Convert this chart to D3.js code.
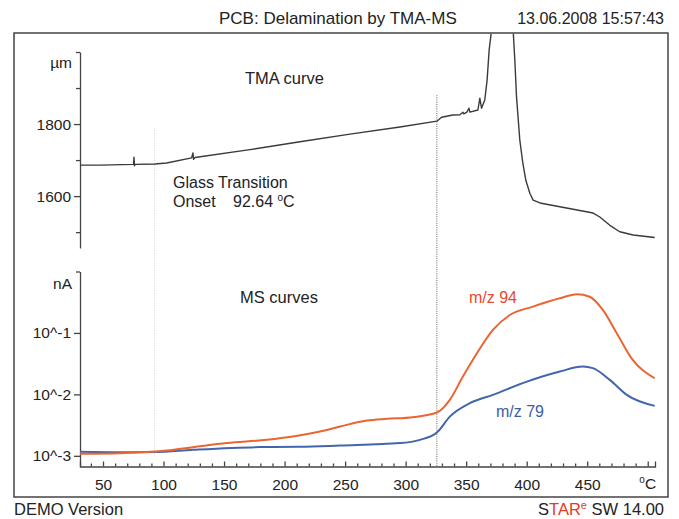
<!DOCTYPE html>
<html>
<head>
<meta charset="utf-8">
<script src="https://cdn.jsdelivr.net/npm/d3@7"></script>
<style>
  body { margin: 0; background: #fff; }
  svg { display: block; }
  text { font-family: "Liberation Sans", Arial, sans-serif; fill: #222; }
</style>
</head>
<body>
<svg id="chart" width="679" height="519"></svg>
<script>
// TMA curve: sample temperature (°C) and sample length (µm)
const tmaTemp = [31.0, 47.5, 75.2, 75.6, 76.0, 76.4, 92.9, 102.6, 123.2, 124.3, 124.8, 126.0,
  171.4, 212.7, 254.0, 295.3, 325.8, 329.7, 339.0, 344.8, 347.3, 348.1, 350.6, 352.3, 353.1,
  359.7, 361.3, 362.7, 365.4, 367.3, 369.0, 371.0, 372.0, 387.7, 388.8, 390.2, 391.6, 394.3,
  396.8, 399.3, 402.6, 405.3, 410.9, 432.9, 454.9, 460.4, 468.7, 476.9, 487.9, 505.8];
const tmaLength = [1686, 1686, 1688, 1708, 1684, 1688, 1689, 1692, 1706, 1720, 1702, 1707,
  1729, 1751, 1772, 1792, 1808, 1819, 1825, 1826, 1833, 1828, 1833, 1844, 1833,
  1839, 1872, 1844, 1867, 1922, 2006, 2061, 2110, 2110, 2061, 1978, 1876, 1756,
  1692, 1644, 1608, 1589, 1581, 1567, 1553, 1542, 1519, 1501, 1492, 1485];

// MS ion currents (nA)
const ms94Temp = [31.0, 64.0, 92.9, 102.8, 130.1, 152.4, 185.4, 206.9, 229.2, 245.7, 268.0,
  284.5, 306.0, 325.8, 336.5, 347.3, 358.9, 372.1, 386.1, 405.1, 427.4, 441.4, 452.1, 462.9,
  474.4, 487.6, 505.8];
const ms94Current = [1.08e-3, 1.10e-3, 1.175e-3, 1.22e-3, 1.43e-3, 1.61e-3, 1.82e-3, 2.06e-3,
  2.48e-3, 2.99e-3, 3.75e-3, 4.0e-3, 4.26e-3, 5.06e-3, 8.15e-3, 1.95e-2, 4.68e-2, 0.112,
  0.196, 0.268, 0.366, 0.426, 0.389, 0.237, 0.0989, 0.0364, 0.0183];

const ms79Temp = [31.0, 64.0, 92.9, 124.3, 179.6, 212.7, 245.7, 295.3, 311.8, 325.8, 336.5,
  353.1, 372.1, 400.2, 427.4, 446.4, 454.6, 468.7, 482.7, 505.8];
const ms79Current = [1.16e-3, 1.14e-3, 1.15e-3, 1.25e-3, 1.385e-3, 1.40e-3, 1.47e-3, 1.61e-3,
  1.82e-3, 2.39e-3, 4.35e-3, 7.20e-3, 9.82e-3, 1.61e-2, 2.35e-2, 2.83e-2, 2.67e-2, 1.72e-2,
  9.82e-3, 6.50e-3];

// Axis ticks
const tempTicks = [50, 100, 150, 200, 250, 300, 350, 400, 450];
const tmaTicks = [1600, 1800];
const tmaMinorTicks = [1500, 1700, 1900, 2000];
const msTicks = [1e-1, 1e-2, 1e-3];

// Evaluation markers
const glassOnset = 92.64;
const delaminationOnset = 325.8;

const svg = d3.select("#chart");
const AXIS = "#444";
const FS = 15.5;

// Scales
const x = d3.scaleLinear().domain([31, 506]).range([80, 655]);
const yTma = d3.scaleLinear().domain([1456, 2000]).range([248, 52]);
const yMs = d3.scaleLog().domain([Math.pow(10, -3.174), 1]).range([466.5, 271.5]);

// Frame
svg.append("rect").attr("x", 14).attr("y", 33).attr("width", 654).attr("height", 464)
  .attr("fill", "none").attr("stroke", AXIS).attr("stroke-width", 1.5);

svg.append("clipPath").attr("id", "frameClip")
  .append("rect").attr("x", 14).attr("y", 33.8).attr("width", 654).attr("height", 463);

// Header and footer
svg.append("text").attr("x", 219).attr("y", 24).attr("font-size", 17)
  .text("PCB: Delamination by TMA-MS");
svg.append("text").attr("x", 664).attr("y", 24).attr("font-size", 16).attr("text-anchor", "end")
  .text("13.06.2008 15:57:43");
svg.append("text").attr("x", 14).attr("y", 515).attr("font-size", 16.5).text("DEMO Version");
const star = svg.append("text").attr("x", 664).attr("y", 515).attr("font-size", 16.5)
  .attr("text-anchor", "end");
star.append("tspan").text("S");
star.append("tspan").style("fill", "#e53a25").text("TAR");
star.append("tspan").style("fill", "#e53a25").attr("font-size", 11).attr("dy", -6).text("e");
star.append("tspan").attr("dy", 6).text(" SW 14.00");

// Dotted evaluation lines
svg.append("line")
  .attr("x1", x(glassOnset)).attr("x2", x(glassOnset))
  .attr("y1", yTma(1790)).attr("y2", yMs(1e-3))
  .attr("stroke", "#cfcfcf").attr("stroke-width", 1).attr("stroke-dasharray", "1,1.5");
svg.append("line")
  .attr("x1", x(delaminationOnset)).attr("x2", x(delaminationOnset))
  .attr("y1", yTma(1880)).attr("y2", yMs.range()[0])
  .attr("stroke", "#666").attr("stroke-width", 1).attr("stroke-dasharray", "1,1.2");

// TMA axis
function styleAxis(g) {
  g.selectAll("path, line").attr("stroke", AXIS).attr("stroke-width", 1.3);
  g.selectAll("text").attr("font-size", FS).attr("fill", "#222")
    .style("font-family", "'Liberation Sans', Arial, sans-serif");
}
svg.append("g").attr("transform", "translate(80,0)")
  .call(d3.axisLeft(yTma).tickValues(tmaTicks).tickSize(6).tickSizeOuter(0).tickPadding(3)
    .tickFormat(d3.format("d")))
  .call(styleAxis);
svg.append("g").attr("transform", "translate(80,0)")
  .call(d3.axisLeft(yTma).tickValues(tmaMinorTicks).tickSize(4).tickSizeOuter(0).tickFormat(""))
  .call(g => g.select(".domain").remove())
  .call(styleAxis);
svg.append("text").attr("x", 72).attr("y", 68).attr("font-size", FS).attr("text-anchor", "end").text("µm");

// MS axis
svg.append("g").attr("transform", "translate(80,0)")
  .call(d3.axisLeft(yMs).tickValues(msTicks).tickSize(6).tickSizeOuter(0).tickPadding(3)
    .tickFormat(d => "10^" + Math.round(Math.log10(d))))
  .call(styleAxis);
svg.append("g").attr("transform", "translate(80,0)")
  .call(d3.axisLeft(yMs).tickValues([1]).tickSize(4).tickSizeOuter(0).tickFormat(""))
  .call(g => g.select(".domain").remove())
  .call(styleAxis);
svg.append("text").attr("x", 72).attr("y", 289).attr("font-size", FS).attr("text-anchor", "end").text("nA");

// Temperature axis: minor ticks every 10 °C, labels every 50 °C
const minorTemps = d3.range(40, 501, 10).filter(t => t % 50 !== 0);
svg.append("g").attr("transform", `translate(0,${yMs.range()[0]})`)
  .call(d3.axisBottom(x).tickValues(minorTemps).tickSize(-3).tickSizeOuter(-5).tickFormat(""))
  .call(styleAxis);
svg.append("g").attr("transform", `translate(0,${yMs.range()[0]})`)
  .call(d3.axisBottom(x).tickValues(tempTicks.concat([500])).tickSize(-5).tickSizeOuter(0)
    .tickPadding(12).tickFormat(d => d === 500 ? "" : d))
  .call(g => g.select(".domain").remove())
  .call(styleAxis);
const unit = svg.append("text").attr("x", x(500)).attr("y", yMs.range()[0] + 22)
  .attr("font-size", FS).attr("text-anchor", "middle");
unit.append("tspan").attr("font-size", 10).attr("dy", -6).text("o");
unit.append("tspan").attr("dy", 6).text("C");

// Curves
const tmaLine = d3.line().x(i => x(tmaTemp[i])).y(i => yTma(tmaLength[i]));
svg.append("path").attr("clip-path", "url(#frameClip)")
  .attr("d", tmaLine(d3.range(tmaTemp.length)))
  .attr("fill", "none").attr("stroke", "#3a3a3a").attr("stroke-width", 1.4)
  .attr("stroke-linejoin", "round");

const msLine = (temps, vals) => d3.line().curve(d3.curveMonotoneX)
  .x(i => x(temps[i])).y(i => yMs(vals[i]))(d3.range(temps.length));
svg.append("path").attr("d", msLine(ms79Temp, ms79Current))
  .attr("fill", "none").attr("stroke", "#4266ad").attr("stroke-width", 2);
svg.append("path").attr("d", msLine(ms94Temp, ms94Current))
  .attr("fill", "none").attr("stroke", "#ec6530").attr("stroke-width", 2);

// Annotations
svg.append("text").attr("x", 245).attr("y", 84).attr("font-size", 16.5).text("TMA curve");
svg.append("text").attr("x", 173).attr("y", 188).attr("font-size", 16).text("Glass Transition");
const onset = svg.append("text").attr("x", 173).attr("y", 207).attr("font-size", 16);
onset.append("tspan").text("Onset");
onset.append("tspan").attr("x", 233).text("92.64 ");
onset.append("tspan").attr("font-size", 10).attr("dy", -6).text("o");
onset.append("tspan").attr("dy", 6).text("C");
svg.append("text").attr("x", 240).attr("y", 303).attr("font-size", 16.5).text("MS curves");
svg.append("text").attr("x", 469).attr("y", 303).attr("font-size", 16)
  .style("fill", "#e8492a").text("m/z 94");
svg.append("text").attr("x", 496).attr("y", 417).attr("font-size", 16)
  .style("fill", "#3d5ca8").text("m/z 79");
</script>
</body>
</html>
